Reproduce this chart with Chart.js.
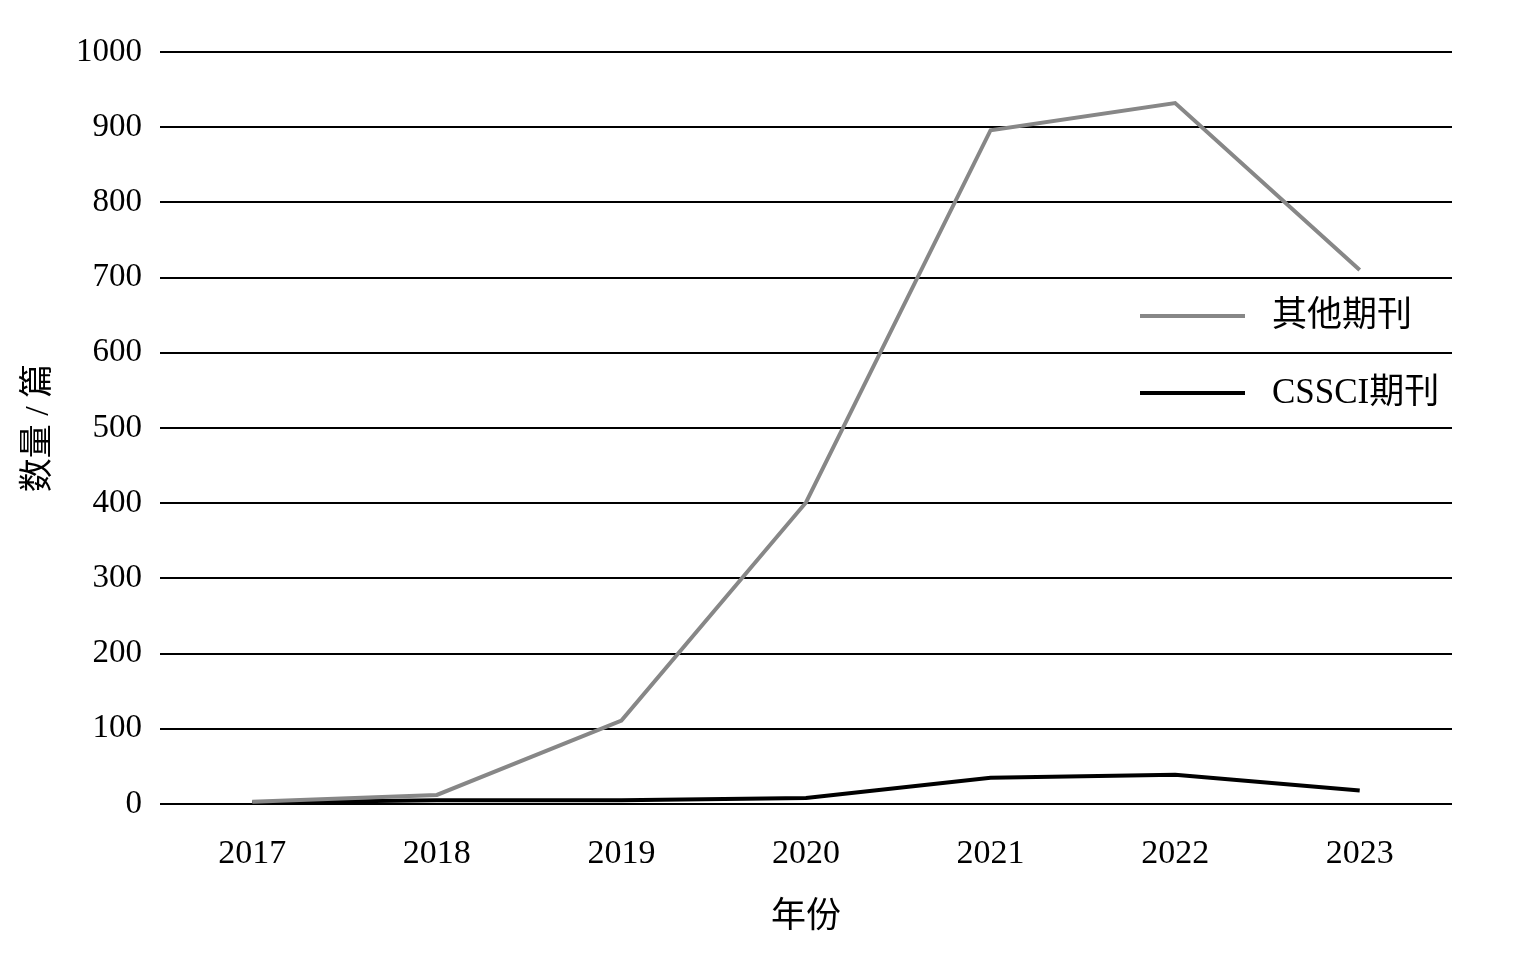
<!DOCTYPE html>
<html>
<head>
<meta charset="utf-8">
<script src="https://cdn.jsdelivr.net/npm/chart.js@4"></script>
<style>
    html, body { margin: 0; padding: 0; background: #fff; }
    #wrap { width: 1536px; height: 954px; }
</style>
</head>
<body>
<div id="wrap"><canvas id="chart"></canvas></div>
<script>
const years = ['2017', '2018', '2019', '2020', '2021', '2022', '2023']
const otherJournals = [3, 12, 111, 401, 896, 932, 710]
const cssciJournals = [2, 5, 5, 8, 35, 39, 18]
const yTicks = [0, 100, 200, 300, 400, 500, 600, 700, 800, 900, 1000]

const serif = '"Liberation Serif", "DejaVu Serif", "Noto Sans CJK SC", serif'

// legend drawn inside the plot, right side
const innerLegend = {
    id: 'innerLegend',
    afterDraw(chart) {
        const { ctx, chartArea } = chart
        const x0 = chartArea.right - 312
        const rows = [chartArea.top + 264, chartArea.top + 341]
        ctx.save()
        chart.data.datasets.forEach((ds, i) => {
            ctx.strokeStyle = ds.borderColor
            ctx.lineWidth = 4
            ctx.beginPath()
            ctx.moveTo(x0, rows[i])
            ctx.lineTo(x0 + 105, rows[i])
            ctx.stroke()
            ctx.fillStyle = '#000'
            ctx.font = '35px ' + serif
            ctx.textBaseline = 'middle'
            ctx.fillText(ds.label, x0 + 132, rows[i] + 1)
        })
        ctx.restore()
    }
}

const ctx = document.getElementById('chart').getContext('2d')
new Chart(ctx, {
    type: 'line',
    data: {
        labels: years,
        datasets: [
            { label: '其他期刊', data: otherJournals, borderColor: '#878787', borderWidth: 4, pointRadius: 0, tension: 0 },
            { label: 'CSSCI期刊', data: cssciJournals, borderColor: '#000000', borderWidth: 4, pointRadius: 0, tension: 0 }
        ]
    },
    options: {
        responsive: true,
        maintainAspectRatio: false,
        animation: false,
        layout: { padding: { top: 52, right: 84, bottom: 0, left: 0 } },
        plugins: { legend: { display: false }, tooltip: { enabled: false } },
        scales: {
            x: {
                offset: true,
                grid: { display: false, drawTicks: false },
                border: { display: false },
                ticks: { color: '#000', font: { family: serif, size: 34 }, padding: 30 },
                title: { display: true, text: '年份', color: '#000', font: { family: serif, size: 35 }, padding: { top: 0, bottom: 15 } },
                afterFit: s => { s.height = 150 }
            },
            y: {
                min: 0,
                max: 1000,
                afterBuildTicks: s => { s.ticks = yTicks.map(v => ({ value: v })) },
                grid: { color: '#000', lineWidth: 2, drawTicks: false },
                border: { display: false },
                ticks: { color: '#000', font: { family: serif, size: 33 }, padding: 18, callback: v => String(v) },
                title: { display: true, text: '数量 / 篇', color: '#000', font: { family: serif, size: 34 }, padding: { top: 19, bottom: 0 } },
                afterFit: s => { s.width = 160 }
            }
        }
    },
    plugins: [innerLegend]
})
</script>
</body>
</html>
